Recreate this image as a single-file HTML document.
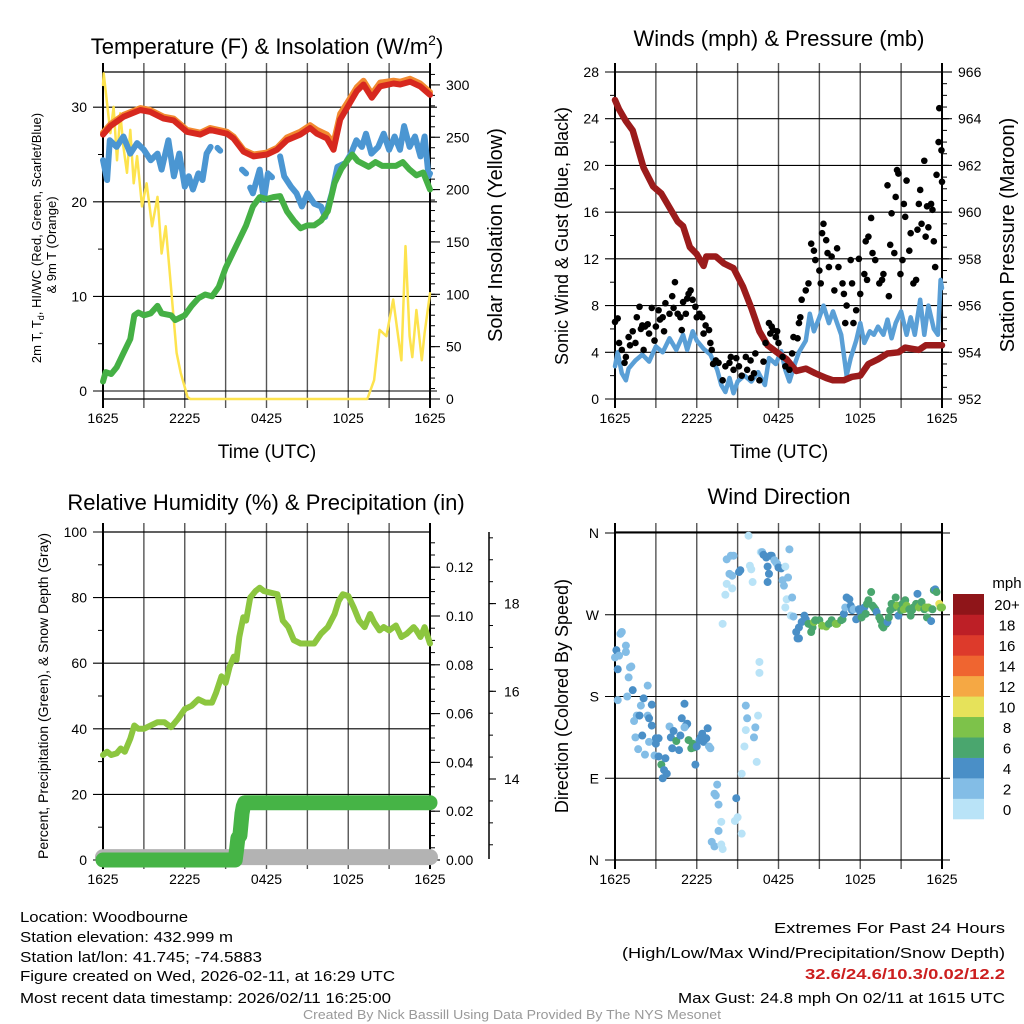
<!DOCTYPE html>
<html><head><meta charset="utf-8">
<style>
html,body{margin:0;padding:0;background:#fff;}
svg{display:block;font-family:"Liberation Sans",Arial,sans-serif;}
</style></head>
<body>
<svg id="chart" width="1024" height="1024" viewBox="0 0 1024 1024" xmlns="http://www.w3.org/2000/svg"></svg>
<script>
// ---------- DATA ----------
const timeLabels = ["1625","2225","0425","1025","1625"];
// Panel 1: temperature
const tempT = [0,0.54,1.52,2.74,3.47,4.45,5.18,5.67,6.16,7.14,7.87,9.1,9.58,10.32,11.05,12.03,12.76,13.5,14.47,15.2,15.7,16.43,16.92,17.41,17.9,18.63,19.12,19.73,20.34,21.32,21.81,22.54,23.28,24];
const tempRed = [27.1,28,29,29.7,29.5,28.8,28.6,28,27.4,27.1,27.6,27.2,26.7,25.3,24.8,25,25.5,26.5,27.1,27.8,27.2,26.7,25.5,28.7,29.9,31.7,32.4,31,32.2,32.5,32.4,32.7,32.2,31.3];
const tempOrange = [27.3,28.2,29.2,29.9,29.7,29.0,28.8,28.2,27.6,27.3,27.8,27.4,26.9,25.5,25.0,25.2,25.7,26.8,27.4,28.1,27.6,27.1,26.2,29.3,30.4,32.1,32.8,31.4,32.6,32.8,32.7,33.0,32.5,31.6];
const wcT = [0,0.3,0.5,1,1.5,2,2.5,3,3.5,4,4.3,4.8,5.2,5.6,6,6.3,6.6,7,7.3,7.6,7.9,8.0,8.4,8.6,8.7,10.2,10.5,10.6,10.8,11,11.5,11.8,12.1,12.4,12.5,13,13.3,13.8,14.2,14.6,15,15.5,16,16.3,16.8,17.2,17.8,18.2,18.6,19,19.3,19.7,20.2,20.6,21,21.4,21.8,22.1,22.5,22.9,23.3,23.6,23.9,24];
const wcV = [24.4,22.3,26.5,25.8,26.9,25.1,26.2,25.5,24.4,25.1,23.4,26.5,22.7,25.1,21.6,22.7,21.3,23,22.3,25.1,25.8,null,25.7,25.4,null,23.4,23.0,null,21.5,20.9,23.4,20.2,23,22.6,null,24.8,22.7,21.6,20.9,19.5,20.9,19.8,19.5,18.4,20.9,23.7,24.1,25.1,26.5,25.8,27.2,25.1,25.8,27.2,25.5,26.9,25.5,28,25.8,26.9,24.8,26.9,22.7,23];
const tdT = [0,0.2,0.6,1,1.5,2,2.3,2.6,3,3.5,4,4.3,5,5.3,6,6.5,7,7.5,8,8.5,9,9.5,10,10.5,11,11.5,12,12.5,13,13.5,14,14.5,15,15.5,16,16.5,17,17.5,18,18.3,18.7,19.5,20,20.5,21,21.5,22,22.5,23,23.5,24];
const tdV = [1.0,2,1.8,2.5,4,5.5,8,8.3,8,8.2,9,8.2,8,7.5,8,9,9.8,10.2,10,11,13,14.5,16,17.5,19.5,20.5,20.3,20.5,20.6,19,18,17.2,17.5,17.5,18,19,22,23.5,24.5,25,24.3,23.7,24.2,23.8,23.8,23.8,24.2,23.4,22.8,23.1,21.3];
const solT = [0,0.05,0.3,0.54,0.78,1.03,1.27,1.5,1.76,2,2.25,2.5,2.86,3.2,3.6,4,4.3,4.6,4.9,5.4,5.7,6.2,6.4,19.4,19.9,20.3,20.8,21.3,21.7,21.9,22.2,22.5,22.7,23,23.4,23.6,24];
const solV = [300,311,282,254,279,228,273,241,216,257,206,232,184,206,165,193,139,165,120,44,25,2,0,0,18,66,60,95,56,37,146,60,40,85,37,63,101];
// Panel 2: winds & pressure
const presT = [0,0.3,0.8,1.3,1.6,2.1,2.8,3.4,4,4.6,5,5.5,6,6.5,6.7,7.4,8,8.7,9.4,10,10.6,11.2,12,12.6,13.3,14,14.7,15.5,16,16.8,17.4,18,18.6,19.3,20,20.8,21.3,21.8,22.3,22.8,23.4,24];
const presV = [964.8,964.4,963.9,963.5,962.9,961.9,961.1,960.8,960.2,959.6,959.4,958.5,958.2,957.7,958.1,958.1,957.8,957.6,956.8,955.9,954.9,954.3,953.95,953.7,953.2,953.3,953.1,952.9,952.8,952.8,952.95,953,953.5,953.7,953.95,954,954.2,954.15,954.1,954.3,954.3,954.3];
const windT = [0,0.2,0.5,0.8,1,1.5,2,2.5,3,3.5,4,4.5,5,5.3,5.7,6,6.5,7,7.5,7.8,8.1,8.4,8.7,9,9.5,10,10.5,11,11.3,11.8,12.2,12.5,12.8,13.2,13.5,14,14.3,14.6,15,15.3,15.7,16,16.3,16.6,17,17.3,17.7,18,18.3,18.7,19,19.3,19.7,20,20.3,20.6,21,21.4,21.7,22,22.4,22.7,23,23.4,23.7,23.9,24];
const windV = [2.8,4,2.2,1.6,2.6,3.3,3.8,3.2,4.5,4,5.2,4.2,5.5,4.2,5.8,5,4.3,3.8,2.5,1.2,0.6,1.8,0.5,1.5,2,1.5,2.3,1.2,3.5,3,4.1,2.5,1.5,3,4,5,7.3,5.8,7,8,6.5,7.5,6.5,5.5,2,3.5,5,6.5,4.8,5.8,5.5,6.2,5.5,6.8,5.2,6.5,7.5,5.5,7,5.5,8.5,5.5,8,6,5.5,10.2,9.5];
const gustT = [0,0.2,0.3,0.5,0.7,0.8,1.0,1.1,1.3,1.5,1.6,1.8,1.9,2.0,2.1,2.2,2.4,2.5,2.7,2.9,3.0,3.2,3.3,3.5,3.6,3.7,4.0,4.2,4.3,4.4,4.6,4.8,4.9,5.0,5.2,5.3,5.4,5.55,5.7,5.9,6.0,6.2,6.4,6.5,6.65,6.9,7.0,7.1,7.2,7.4,7.6,7.9,8.1,8.4,8.5,8.7,8.9,9.1,9.3,9.6,9.7,9.95,10.0,10.2,10.3,10.6,10.9,11.05,11.3,11.4,11.5,11.6,11.8,11.9,12.0,12.3,12.5,12.8,13.0,13.1,
13.4,13.5,13.6,13.7,14.0,14.2,14.4,14.6,14.7,15.0,15.1,15.2,15.3,15.5,15.6,15.7,15.9,16.1,16.3,16.4,16.7,16.8,16.9,17.0,17.3,17.4,17.5,17.7,17.9,18.0,18.3,18.4,18.5,18.6,18.8,18.9,19.1,19.4,19.6,19.7,20.0,20.1,20.2,20.3,20.5,20.6,20.7,20.8,20.95,21.1,21.2,21.3,21.4,21.6,21.7,21.9,22.1,22.2,22.3,22.4,22.5,22.7,22.8,22.9,23.0,23.2,23.3,23.4,23.5,23.6,23.75,23.8,23.96,24];
const gustV = [6.6,6.9,4.8,4.2,3.1,3.6,5.3,4.6,5.8,4.8,7.0,7.9,6.0,6.3,4.2,6.2,6.4,5.6,7.8,5.0,6.2,7.6,6.8,7.0,5.8,8.2,7.3,8.8,7.8,10.0,7.3,7.0,5.9,8.3,7.3,8.6,9.0,9.3,8.5,7.9,7.0,7.3,7.0,5.6,6.3,5.9,4.8,4.2,3.0,3.3,3.1,1.6,2.8,3.1,3.6,2.5,3.5,2.8,2.0,3.6,2.5,3.3,1.8,2.2,3.9,1.6,3.2,4.8,6.5,5.6,6.2,5.9,5.3,5.8,4.8,3.6,2.8,2.5,3.9,5.3,
5.2,6.5,7.0,8.5,9.3,9.9,13.3,12.7,11.9,11.0,9.9,14.2,15.0,13.6,12.5,11.3,12.2,9.3,12.9,11.3,9.9,9.0,6.5,8.0,11.9,9.9,6.5,7.6,12.0,9.0,10.7,13.5,10.2,13.9,15.5,12.5,11.9,9.9,10.2,10.7,18.3,8.8,13.2,15.9,12.5,17.3,19.6,19.3,10.7,11.9,16.7,15.6,18.7,12.7,14.2,9.9,10.2,14.5,16.7,17.9,15.0,20.4,13.9,16.5,14.7,16.7,16.2,13.5,11.3,19.2,22.0,24.9,21.3,18.6];
// Panel 3: humidity, precip, snow
const rhT = [0,0.3,0.6,1.0,1.3,1.6,2.0,2.3,2.6,3,3.5,4.0,4.5,5,5.5,6,6.5,7,7.5,8,8.3,8.7,9.0,9.3,9.6,9.8,10,10.3,10.5,10.8,11.2,11.5,11.8,12.3,12.8,13.2,13.6,14,14.5,15,15.5,16,16.5,17,17.3,17.6,18,18.4,18.8,19.2,19.6,19.9,20.3,20.6,21,21.5,21.9,22.3,22.8,23,23.3,23.6,24];
const rhV = [32,33,32,32.5,34,33,37,41,40,40,41,42,42,40.5,43,46,47,49,48,48,51,56,54,59,62,61,68,74,73,80,82,83,82,81.5,81,73,71,67,66,66,66,69,71,75,79,81,80.5,77,73,71,75,72.5,70,71,70,71.5,68,69,71,70,68,71,66];
const precipT = [0,9.7,9.8,9.9,10.05,10.2,10.3,10.4,24];
const precipV = [0,0,0.004,0.009,0.01,0.019,0.022,0.0235,0.0235];
const snowT = [0,24];
const snowV = [12.22,12.22];
// Panel 4: wind direction (hour, degrees, speed mph)
const dirT = [0,0.1,0.4,0.5,0.2,0.3,0.8,0.8,1.1,1.0,1.2,0.2,0.9,1.3,1.9,1.6,1.4,1.8,2.1,2.4,2.4,2.5,2.7,2.7,1.5,2.0,1.7,2.2,2.5,2.9,3.0,3.2,3.0,3.2,3.4,3.7,3.6,3.8,3.5,4.0,4.1,4.3,4.5,4.2,4.7,4.8,4.9,5.1,5.2,5.3,5.1,5.4,5.6,5.7,5.8,5.9,6.0,6.2,6.3,6.4,6.5,6.7,6.8,6.9,7.0,
7.5,7.3,7.4,7.6,7.6,7.8,7.1,7.3,7.8,7.9,8.9,9.0,8.8,9.3,9.3,9.5,9.6,9.7,9.6,10.3,10.2,10.5,10.4,8.1,7.9,8.2,8.6,8.2,8.4,8.6,8.5,8.7,9.2,9.1,9.8,9.9,10.0,10.1,10.6,10.6,10.7,10.8,10.9,11.1,11.2,11.3,11.2,11.4,11.5,11.7,11.8,11.9,12.0,12.2,12.3,12.4,12.5,12.7,12.8,12.6,12.5,13.0,12.9,13.1,
13.3,13.4,13.5,13.5,13.7,13.9,14.0,14.2,14.4,14.5,14.6,14.7,15.0,15.2,15.5,15.7,15.9,16.2,16.3,16.6,16.7,16.8,16.9,17.0,17.2,17.3,17.4,17.5,17.7,17.9,18.0,18.1,18.3,18.4,18.5,18.6,18.8,18.9,19.0,19.1,19.2,19.4,19.5,19.6,19.7,19.9,20.0,20.1,20.2,20.3,20.5,20.6,20.7,20.8,21.0,21.1,21.2,21.3,21.4,21.6,21.7,21.8,21.9,22.1,22.2,22.3,22.4,22.5,22.7,22.8,22.9,23.0,23.2,23.3,23.4,23.5,23.6,23.8,23.9,24.0];
const dirV = [223,231,249,251,210,225,236,229,212,201,213,176,180,187,170,159,153,159,178,192,159,156,171,148,135,137,122,116,130,115,134,134,128,114,105,112,99,95,90,147,135,142,131,123,121,137,156,172,148,150,146,132,123,128,124,105,125,132,135,139,130,134,145,125,123,
83,73,71,61,32,42,20,15,17,12,68,47,43,29,95,125,143,156,170,146,135,159,108,292,260,304,299,331,315,313,335,335,319,317,357,324,320,306,218,206,339,339,336,333,323,315,306,335,335,330,328,326,322,321,308,302,323,311,342,287,278,289,269,268,
251,244,244,256,262,269,265,260,251,256,262,264,264,258,257,260,264,260,260,264,265,271,278,289,287,280,275,276,265,276,273,267,278,271,282,286,295,280,278,276,273,267,264,258,256,260,262,267,275,282,278,289,280,269,275,282,276,286,280,276,269,275,278,282,293,278,280,284,276,278,267,278,263,276,297,298,295,282,278,278];
const dirS = [3,5,3,3,5,3,3,3,3,3,3,3,3,5,3,3,3,5,5,3,3,5,5,5,3,5,3,3,3,3,5,5,5,5,7,5,5,5,5,3,5,5,7,5,5,5,5,5,5,5,3,7,7,7,7,5,5,5,5,5,5,5,5,3,3,
3,3,3,3,3,1,3,3,1,1,5,1,1,1,1,1,1,3,3,3,3,1,1,1,1,1,1,3,3,3,3,3,5,5,1,1,1,1,1,1,1,3,5,5,5,5,5,5,5,3,3,3,5,5,3,3,1,3,3,1,1,3,1,3,
5,5,5,5,5,5,5,7,7,7,9,7,7,9,9,7,7,9,9,7,7,5,3,5,5,5,5,3,5,5,5,7,5,7,7,7,7,7,7,7,5,7,7,7,7,7,5,7,7,7,7,7,9,5,7,7,9,7,9,7,7,7,7,7,5,9,9,7,7,9,7,9,5,7,7,5,7,11,9,9];
const cbLabels = ["0","2","4","6","8","10","12","14","16","18","20+"];
const cbColors = ["#b9e3f7","#83bde6","#4a8fc7","#4aa66e","#7dc24a","#e6e25a","#f5a844","#ef6530","#dd3a2b","#bd1f26","#8f1519"];

// ---------- HELPERS ----------
const NS = "http://www.w3.org/2000/svg";
const svg = document.getElementById("chart");
function el(tag, attrs, parent, name) {
  const e = document.createElementNS(NS, tag);
  for (const k in attrs) e.setAttribute(k, attrs[k]);
  
  
  parent.appendChild(e);
  return e;
}
function txt(parent, x, y, s, size, anchor, name, extra) {
  const a = Object.assign({x: x, y: y, "font-size": size, "text-anchor": anchor || "middle", fill: "#000"}, extra || {});
  const t = el("text", a, parent, name);
  t.textContent = s;
  return t;
}
function ln(p, x1, y1, x2, y2, stroke, w, name) {
  return el("line", {x1: x1, y1: y1, x2: x2, y2: y2, stroke: stroke, "stroke-width": w}, p, name);
}
function series(p, T, V, xf, yf, stroke, w, name) {
  let d = "", pen = false;
  for (let i = 0; i < T.length; i++) {
    if (V[i] === null) { pen = false; continue; }
    d += (pen ? "L" : "M") + xf(T[i]).toFixed(1) + " " + yf(V[i]).toFixed(1);
    pen = true;
  }
  return el("path", {d: d, fill: "none", stroke: stroke, "stroke-width": w, "stroke-linejoin": "round", "stroke-linecap": "round"}, p, name);
}
const PW = 327;
function frame(p, x0, yT, yB, labels) {
  for (let i = 0; i <= 8; i++) {
    const x = x0 + i * PW / 8;
    const edge = (i === 0 || i === 8);
    ln(p, x, yT - 9, x, yB + 9, edge ? "#000" : "#555", edge ? 2 : 1.4, "x-grid-line");
  }
  ln(p, x0, yT, x0 + PW, yT, "#000", 1.2, "plot-top-border");
  ln(p, x0, yB, x0 + PW, yB, "#000", 1.2, "plot-bottom-border");
  if (labels) for (let i = 0; i < 5; i++) txt(p, x0 + i * PW / 4, yB + 24, timeLabels[i], 14, "middle", "x-tick-label");
}
function leftAxis(p, x0, vals, yf, fmt, minors, ext) {
  vals.forEach(v => {
    ln(p, x0 - 10, yf(v), x0 + PW + ext, yf(v), "#000", 1.1, "y-grid-line");
    txt(p, x0 - 16, yf(v) + 5, fmt(v), 14, "end", "y-tick-label");
  });
  minors.forEach(v => ln(p, x0 - 5, yf(v), x0, yf(v), "#000", 1, "y-minor-tick"));
}
function rightAxis(p, x1, majors, minors, yf, fmt) {
  minors.forEach(v => ln(p, x1, yf(v), x1 + 5, yf(v), "#000", 1, "right-minor-tick"));
  majors.forEach(v => {
    ln(p, x1, yf(v), x1 + 10, yf(v), "#000", 1.1, "right-major-tick");
    txt(p, x1 + 16, yf(v) + 5, fmt(v), 14, "start", "right-tick-label");
  });
}
function range(a, b, s) { const r = []; for (let v = a; v <= b + 1e-9; v += s) r.push(+v.toFixed(4)); return r; }
function rot(p, x, y, s, size, name) {
  return txt(p, x, y, s, size, "middle", name, {transform: "rotate(-90 " + x + " " + y + ")"});
}

// ---------- PANEL 1 ----------
{
  const g = el("g", {}, svg, "temperature-panel");
  const X0 = 103, YT = 72, YB = 399;
  const xs = h => X0 + h / 24 * PW;
  const yt = v => 391 - v * 9.46;
  const ys = v => 399 - v * 1.047;
  const tt = txt(g, 267, 54, "Temperature (F) & Insolation (W/m", 22, "middle", "temperature-title");
  const sup = document.createElementNS(NS, "tspan");
  sup.setAttribute("dy", "-9"); sup.setAttribute("font-size", "14"); sup.textContent = "2"; tt.appendChild(sup);
  const cl = document.createElementNS(NS, "tspan"); cl.setAttribute("dy", "9"); cl.textContent = ")"; tt.appendChild(cl);
  frame(g, X0, YT, YB, true);
  leftAxis(g, X0, [0, 10, 20, 30], yt, v => v, [5, 15, 25], 7);
  rightAxis(g, X0 + PW, range(0, 300, 50), range(0, 310, 10), ys, v => v);
  series(g, solT, solV, xs, ys, "#fde34e", 2.5, "solar-insolation-line");
  series(g, tempT, tempOrange, xs, yt, "#f28a30", 6, "9m-temperature-line");
  series(g, tempT, tempRed, xs, yt, "#d7281f", 6, "2m-temperature-line");
  series(g, wcT, wcV, xs, yt, "#4b96d2", 6, "heat-index-wind-chill-line");
  series(g, tdT, tdV, xs, yt, "#45b045", 6, "dewpoint-line");
  txt(g, 267, 458, "Time (UTC)", 19, "middle", "x-axis-title");
  const lt = rot(g, 41, 238, "", 13, "left-axis-title");
  lt.innerHTML = '2m T, T<tspan dy="3" font-size="9">d</tspan><tspan dy="-3">, HI/WC (Red, Green, Scarlet/Blue)</tspan>';
  rot(g, 56, 245, "& 9m T (Orange)", 13, "left-axis-title-line2");
  rot(g, 502, 235, "Solar Insolation (Yellow)", 20, "right-axis-title");
}
// ---------- PANEL 2 ----------
{
  const g = el("g", {}, svg, "winds-panel");
  const X0 = 615, YT = 72, YB = 399;
  const xs = h => X0 + h / 24 * PW;
  const yw = v => 399 - v * PW / 28;
  const yp = v => 399 - (v - 952) * PW / 14;
  txt(g, 779, 46, "Winds (mph) & Pressure (mb)", 22, "middle", "winds-title");
  frame(g, X0, YT, YB, true);
  leftAxis(g, X0, range(0, 28, 4), yw, v => v, range(2, 26, 4), 7);
  rightAxis(g, X0 + PW, range(952, 966, 2), range(952, 966, 0.5), yp, v => v);
  series(g, windT, windV, xs, yw, "#5a9fd6", 4.5, "sonic-wind-line");
  series(g, presT, presV, xs, yp, "#9b1b1b", 6.5, "station-pressure-line");
  for (let i = 0; i < gustT.length; i++) {
    const c = el("circle", {cx: xs(gustT[i]), cy: yw(gustV[i]), r: 3.3, fill: "#000"}, g, "gust-point");
  }
  txt(g, 779, 458, "Time (UTC)", 19, "middle", "x-axis-title");
  rot(g, 568, 236, "Sonic Wind & Gust (Blue, Black)", 18, "left-axis-title");
  rot(g, 1014, 235, "Station Pressure (Maroon)", 20, "right-axis-title");
}
// ---------- PANEL 3 ----------
{
  const g = el("g", {}, svg, "humidity-panel");
  const X0 = 103, YT = 532, YB = 860;
  const xs = h => X0 + h / 24 * PW;
  const yr = v => 860 - v * 3.28;
  const yp = v => 860 - v * 2440;
  const ysn = v => 779 - (v - 14) * 43.85;
  txt(g, 266, 510, "Relative Humidity (%) & Precipitation (in)", 22, "middle", "humidity-title");
  frame(g, X0, YT, YB, true);
  leftAxis(g, X0, range(0, 100, 20), yr, v => v, range(10, 90, 20), 0);
  rightAxis(g, X0 + PW, range(0, 0.12, 0.02), range(0, 0.13, 0.005), yp, v => v.toFixed(2));
  ln(g, 489, 532, 489, 859, "#000", 1.5, "snow-depth-axis-line");
  range(12.5, 19.5, 0.5).forEach(v => ln(g, 489, ysn(v), 493, ysn(v), "#000", 1, "snow-minor-tick"));
  [14, 16, 18].forEach(v => { ln(g, 489, ysn(v), 496, ysn(v), "#000", 1.1, "snow-major-tick"); txt(g, 504, ysn(v) + 5, v, 14, "start", "snow-tick-label"); });
  series(g, snowT, snowV, xs, ysn, "#b3b3b3", 16, "snow-depth-line");
  series(g, precipT, precipV, xs, yp, "#46b446", 15, "precipitation-line");
  series(g, rhT, rhV, xs, yr, "#8cc63f", 6, "relative-humidity-line");
  rot(g, 48, 696, "Percent, Precipitation (Green), & Snow Depth (Gray)", 14, "left-axis-title");
}
// ---------- PANEL 4 ----------
{
  const g = el("g", {}, svg, "wind-direction-panel");
  const X0 = 615, YT = 532, YB = 860;
  const xs = h => X0 + h / 24 * PW;
  const yd = v => 860 - v * PW / 360;
  txt(g, 779, 504, "Wind Direction", 22, "middle", "wind-direction-title");
  frame(g, X0, YT, YB, true);
  const dl = ["N", "E", "S", "W", "N"];
  [0, 90, 180, 270, 360].forEach((v, i) => {
    ln(g, X0 - 10, yd(v), X0 + PW + 8, yd(v), "#000", 1.1, "direction-grid-line");
    txt(g, X0 - 16, yd(v) + 5, dl[i], 14, "end", "direction-tick-label");
  });
  const colorFor = s => cbColors[Math.min(10, Math.max(0, Math.floor(s / 2)))];
  for (let i = 0; i < dirT.length; i++) {
    const c = el("circle", {cx: xs(dirT[i]), cy: yd(dirV[i]), r: 4, fill: colorFor(dirS[i])}, g, "direction-point");
  }
  rot(g, 568, 696, "Direction (Colored By Speed)", 18, "left-axis-title");
  const cb = el("g", {}, g, "speed-colorbar");
  for (let i = 0; i < cbColors.length; i++) {
    const y = 819 - (i + 1) * 225 / 11;
    el("rect", {x: 953, y: y, width: 31, height: 225 / 11 + 0.3, fill: cbColors[i]}, cb, "colorbar-box");
    txt(cb, 1007, y + 225 / 22 + 6, cbLabels[i], 15, "middle", "colorbar-label");
  }
  txt(cb, 1007, 588, "mph", 15, "middle", "colorbar-unit");
}
// ---------- FOOTER ----------
{
  const g = el("g", {}, svg, "station-info");
  const L = [["Location: Woodbourne", 168], ["Station elevation: 432.999 m", 213], ["Station lat/lon: 41.745; -74.5883", 242], ["Figure created on Wed, 2026-02-11, at 16:29 UTC", 375], ["Most recent data timestamp: 2026/02/11 16:25:00", 371]];
  const LY = [922, 942, 962, 981, 1003];
  L.forEach((l, i) => txt(g, 20, LY[i], l[0], 15, "start", "info-line", {textLength: l[1], lengthAdjust: "spacingAndGlyphs"}));
  const R = [["Extremes For Past 24 Hours", 231, 933, "#000", "normal"], ["(High/Low/Max Wind/Precipitation/Snow Depth)", 383, 958, "#000", "normal"], ["32.6/24.6/10.3/0.02/12.2", 200, 979, "#cc1f1f", "bold"], ["Max Gust: 24.8 mph On 02/11 at 1615 UTC", 327, 1003, "#000", "normal"]];
  R.forEach(r => txt(g, 1005, r[2], r[0], 15, "end", "extremes-line", {textLength: r[1], lengthAdjust: "spacingAndGlyphs", fill: r[3], "font-weight": r[4]}));
  txt(g, 512, 1019, "Created By Nick Bassill Using Data Provided By The NYS Mesonet", 13, "middle", "credit-line", {fill: "#999", textLength: 418, lengthAdjust: "spacingAndGlyphs"});
}
</script>
</body></html>
